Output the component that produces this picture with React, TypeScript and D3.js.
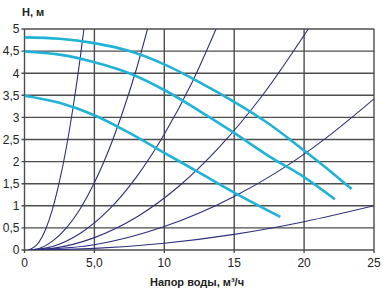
import React from "react";
import * as d3 from "d3";

const W = 386;
const H = 297;

const xTicks = [0, 5, 10, 15, 20, 25];
const xTickLabels = ["0", "5,0", "10", "15", "20", "25"];
const yTicks = [0, 0.5, 1, 1.5, 2, 2.5, 3, 3.5, 4, 4.5, 5];
const yTickLabels = ["0", "0,5", "1", "1,5", "2", "2,5", "3", "3,5", "4", "4,5", "5"];

// system (network) characteristic curves: [Q, H]
const sys1: [number, number][] = [[0.3, 0], [1, 0.16], [1.5, 0.46], [2, 0.92], [2.5, 1.55], [3, 2.33], [3.5, 3.28], [4, 4.38], [4.25, 5.0]];
const sys2: [number, number][] = [[0.3, 0], [1, 0.03], [2, 0.2], [3, 0.5], [4, 0.94], [5, 1.52], [6, 2.24], [7, 3.1], [8, 4.09], [8.8, 5.0]];
const sys3: [number, number][] = [[0.3, 0], [2, 0.08], [4, 0.38], [6, 0.9], [8, 1.65], [10, 2.62], [12, 3.8], [13.7, 5.0]];
const sys4: [number, number][] = [[0.3, 0], [2, 0.036], [5, 0.28], [8, 0.74], [11, 1.43], [14, 2.35], [17, 3.49], [20.3, 5.0]];
const sys5: [number, number][] = [[0.3, 0], [5, 0.12], [10, 0.53], [15, 1.21], [18, 1.75], [20, 2.17], [22, 2.64], [25, 3.42]];
const sys6: [number, number][] = [[0.3, 0], [5, 0.036], [10, 0.154], [15, 0.354], [20, 0.64], [25, 1.0]];

// pump curves
const pumpA: [number, number][] = [[0, 4.81], [2.5, 4.78], [5, 4.68], [7.5, 4.5], [10, 4.2], [12.5, 3.8], [15, 3.35], [17.5, 2.85], [20, 2.25], [22, 1.75], [23.4, 1.38]];
const pumpB: [number, number][] = [[0, 4.49], [2.5, 4.42], [5, 4.25], [7.5, 4.0], [10, 3.62], [12.5, 3.15], [15, 2.65], [17.5, 2.12], [20, 1.65], [22.2, 1.15]];
const pumpC: [number, number][] = [[0, 3.49], [2.5, 3.33], [5, 3.05], [7.5, 2.65], [10, 2.2], [12.5, 1.75], [15, 1.3], [18.3, 0.75]];

const systemCurves = [sys1, sys2, sys3, sys4, sys5, sys6];
const pumpCurves = [pumpA, pumpB, pumpC];

export default function App() {
  const x = d3.scaleLinear().domain([0, 25]).range([24.5, 374]);
  const y = d3.scaleLinear().domain([0, 5]).range([250, 29]);
  const line = d3
    .line<[number, number]>()
    .x((d) => x(d[0]))
    .y((d) => y(d[1]))
    .curve(d3.curveMonotoneX);

  const grid = "#4d4d4d";
  const font = "'Liberation Sans', Arial, sans-serif";

  return (
    <div style={{ position: "absolute", left: 0, top: 0 }}>
      <svg width={W} height={H} style={{ display: "block", background: "#fff" }}>
        <defs>
          <clipPath id="plot">
            <rect x={x(0)} y={y(5)} width={x(25) - x(0)} height={y(0) - y(5)} />
          </clipPath>
        </defs>
        {yTicks.map((t) => (
          <line key={"hy" + t} x1={x(0) - 3} x2={x(25)} y1={y(t)} y2={y(t)} stroke={grid} strokeWidth={1.4} />
        ))}
        {xTicks.map((t) => (
          <line key={"vx" + t} x1={x(t)} x2={x(t)} y1={y(5)} y2={y(0) + 3} stroke={grid} strokeWidth={1.4} />
        ))}
        <g clipPath="url(#plot)">
          {systemCurves.map((c, i) => (
            <path key={"s" + i} d={line(c) || ""} fill="none" stroke="#2e2f7d" strokeWidth={1.1} />
          ))}
          {pumpCurves.map((c, i) => (
            <path key={"p" + i} d={line(c) || ""} fill="none" stroke="#1fb3d8" strokeWidth={2.6} strokeLinecap="butt" />
          ))}
        </g>
        {yTicks.map((t, i) => (
          <text key={"ly" + t} x={x(0) - 5} y={y(t)} dy="0.36em" textAnchor="end" fontFamily={font} fontSize={12} fill="#222">
            {yTickLabels[i]}
          </text>
        ))}
        {xTicks.map((t, i) => (
          <text key={"lx" + t} x={x(t)} y={y(0) + 17} textAnchor="middle" fontFamily={font} fontSize={12} fill="#222">
            {xTickLabels[i]}
          </text>
        ))}
        <text x={22} y={16} fontFamily={font} fontSize={11} fontWeight="bold" fill="#222">
          H, м
        </text>
        <text x={197} y={286} textAnchor="middle" fontFamily={font} fontSize={11} fontWeight="bold" fill="#222">
          Напор воды, м³/ч
        </text>
      </svg>
    </div>
  );
}
